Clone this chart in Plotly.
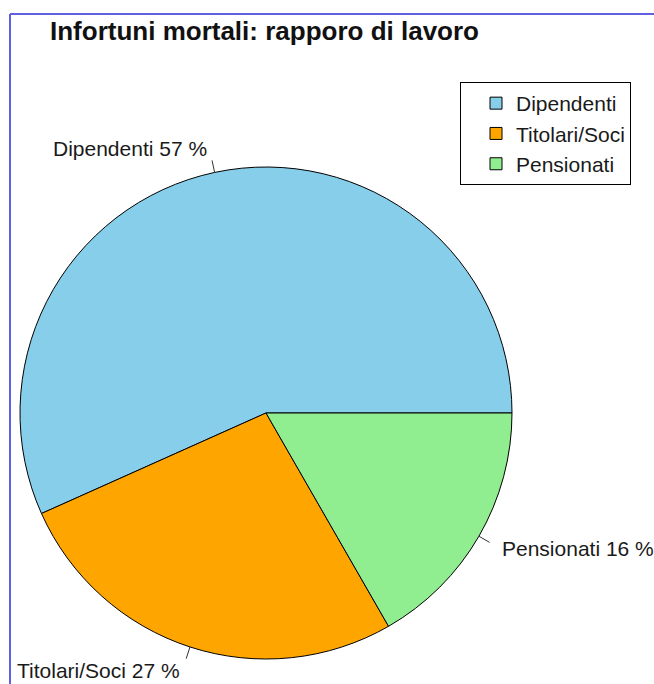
import math
import plotly.graph_objects as go

W, H = 654, 684

categories = ["Dipendenti", "Titolari/Soci", "Pensionati"]
shares = [56.7, 26.6, 16.7]
pct_labels = ["57 %", "27 %", "16 %"]
colors = ["#87CEEB", "#FFA500", "#90EE90"]

# pie geometry in screenshot pixels (centre and radius)
CX, CY, R = 266, 413, 246


def px(x):
    return x / W


def py(y):
    return 1 - y / H


total = sum(shares)
first_deg = shares[0] / total * 360

fig = go.Figure(go.Pie(
    labels=categories,
    values=shares,
    sort=False,
    direction="counterclockwise",
    rotation=90 - first_deg,  # first slice starts at 3 o'clock, going counterclockwise
    textinfo="none",
    hoverinfo="label+percent",
    marker=dict(colors=colors, line=dict(color="#000000", width=1)),
    domain=dict(x=[px(CX - R), px(CX + R)], y=[py(CY + R), py(CY - R)]),
))

# outside labels with short ticks at the middle angle of each slice
start = 0.0
for cat, val, pct in zip(categories, shares, pct_labels):
    mid = math.radians(start + val / total * 360 / 2)
    start += val / total * 360
    c, s = math.cos(mid), math.sin(mid)
    fig.add_shape(type="line", xref="paper", yref="paper",
                  x0=px(CX + R * c), y0=py(CY - R * s),
                  x1=px(CX + 1.05 * R * c), y1=py(CY - 1.05 * R * s),
                  line=dict(color="#333333", width=1))
    fig.add_annotation(xref="paper", yref="paper",
                       x=px(CX + 1.1 * R * c), y=py(CY - 1.1 * R * s),
                       text=f"{cat} {pct}", showarrow=False,
                       xanchor="left" if c > 0 else "right", yanchor="middle",
                       font=dict(size=21, color="#1a1a1a"))

# frame lines seen in the screenshot
fig.add_shape(type="line", xref="paper", yref="paper", x0=px(10), x1=1,
              y0=py(14), y1=py(14), line=dict(color="#6060e0", width=2))
fig.add_shape(type="line", xref="paper", yref="paper", x0=px(10), x1=px(10),
              y0=0, y1=py(14), line=dict(color="#6060e0", width=2))

fig.update_layout(
    width=W, height=H,
    margin=dict(l=0, r=0, t=0, b=0),
    paper_bgcolor="white", plot_bgcolor="white",
    font=dict(family="Liberation Sans, Arial, sans-serif", color="#1a1a1a"),
    title=dict(text="<b>Infortuni mortali: rapporo di lavoro</b>", x=px(50), xanchor="left",
               y=py(31), yanchor="middle", font=dict(size=26, color="#111111")),
    legend=dict(x=px(460), y=py(82), xanchor="left", yanchor="top",
                bordercolor="#000000", borderwidth=1, bgcolor="white",
                indentation=15, font=dict(size=21, color="#1a1a1a")),
)

fig.write_html(
    "out.html",
    config={"displayModeBar": False},
    post_script="document.body.style.margin='0';document.body.style.overflow='hidden';",
)
